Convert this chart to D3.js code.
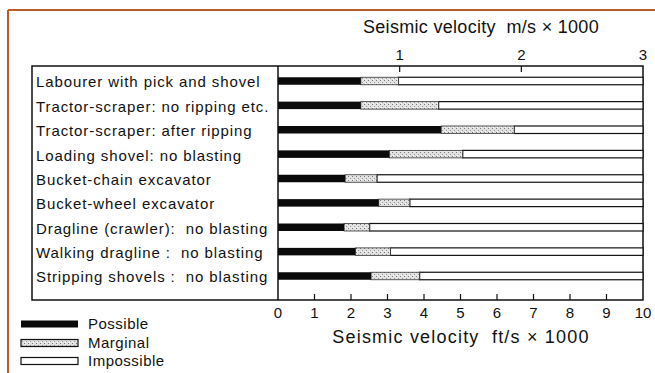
<!DOCTYPE html>
<html><head><meta charset="utf-8">
<script src="https://cdn.jsdelivr.net/npm/d3@7"></script>
<style>body{margin:0;background:#fff}svg{display:block}text{font-family:"Liberation Sans",Arial,sans-serif;fill:#111;white-space:pre}</style>
</head><body><svg id="c" width="655" height="373"></svg>
<script>
const categories = [
  "Labourer with pick and shovel",
  "Tractor-scraper: no ripping etc.",
  "Tractor-scraper: after ripping",
  "Loading shovel: no blasting",
  "Bucket-chain excavator",
  "Bucket-wheel excavator",
  "Dragline (crawler):  no blasting",
  "Walking dragline :  no blasting",
  "Stripping shovels :  no blasting"
];
// seismic velocity, ft/s x 1000 (upper limit of each class)
const possibleEnd   = [2.27, 2.27, 4.47, 3.05, 1.84, 2.76, 1.81, 2.12, 2.55];
const marginalEnd   = [3.30, 4.40, 6.47, 5.06, 2.71, 3.61, 2.51, 3.08, 3.88];
const impossibleEnd = [10, 10, 10, 10, 10, 10, 10, 10, 10];
const ftTicks = [0,1,2,3,4,5,6,7,8,9,10];
const mTicks = [1,2,3];
const legendItems = ["Possible","Marginal","Impossible"];

const svg = d3.select("#c");
const defs = svg.append("defs");
const pat = defs.append("pattern").attr("id","hatch").attr("patternUnits","userSpaceOnUse")
  .attr("width",4).attr("height",4);
pat.append("rect").attr("width",4).attr("height",4).attr("fill","#e2e2e2");
pat.append("rect").attr("x",0).attr("y",0).attr("width",1).attr("height",1).attr("fill","#7a7a7a");
pat.append("rect").attr("x",2).attr("y",2).attr("width",1).attr("height",1).attr("fill","#999");
pat.append("rect").attr("x",1).attr("y",3).attr("width",1).attr("height",1).attr("fill","#fafafa");

// orange frame
svg.append("line").attr("x1",8).attr("x2",655).attr("y1",10).attr("y2",10).attr("stroke","#bf5a2a").attr("stroke-width",2);
svg.append("line").attr("x1",8).attr("x2",8).attr("y1",10).attr("y2",373).attr("stroke","#bf5a2a").attr("stroke-width",2);

const x = d3.scaleLinear().domain([0,10]).range([278,643]);
const xm = d3.scaleLinear().domain([0,3]).range([278,643]);
const y = d3.scalePoint().domain(categories).range([81,276]);
const plotTop = 66, plotBottom = 300, plotLeft = 32;
const bh = 7.5;

// frame
svg.append("rect").attr("x",plotLeft).attr("y",plotTop).attr("width",x(10)-plotLeft).attr("height",plotBottom-plotTop)
  .attr("fill","none").attr("stroke","#111").attr("stroke-width",1.5);
svg.append("line").attr("x1",x(0)).attr("x2",x(0)).attr("y1",plotTop).attr("y2",plotBottom).attr("stroke","#111").attr("stroke-width",1.5);

// bars
const rows = svg.append("g").selectAll("g").data(categories).join("g");
rows.append("rect").attr("x",(d,i)=>x(marginalEnd[i])).attr("y",d=>y(d)-bh/2)
  .attr("width",(d,i)=>x(impossibleEnd[i])-x(marginalEnd[i])).attr("height",bh)
  .attr("fill","#fff").attr("stroke","#111").attr("stroke-width",1.2);
rows.append("rect").attr("x",(d,i)=>x(possibleEnd[i])).attr("y",d=>y(d)-bh/2)
  .attr("width",(d,i)=>x(marginalEnd[i])-x(possibleEnd[i])).attr("height",bh)
  .attr("fill","url(#hatch)").attr("stroke","#333").attr("stroke-width",0.8);
rows.append("rect").attr("x",x(0)).attr("y",d=>y(d)-bh/2)
  .attr("width",(d,i)=>x(possibleEnd[i])-x(0)).attr("height",bh).attr("fill","#0a0a0a");

// labels
svg.append("g").selectAll("text").data(categories).join("text")
  .attr("x",36).attr("y",d=>y(d)+1).attr("dy","0.36em")
  .style("font-size","15px").style("letter-spacing","0.9px").text(d=>d);

// bottom axis
svg.append("g").selectAll("line").data(ftTicks.slice(1,-1)).join("line")
  .attr("x1",d=>x(d)).attr("x2",d=>x(d)).attr("y1",plotBottom).attr("y2",plotBottom-6)
  .attr("stroke","#111").attr("stroke-width",1.2);
svg.append("g").selectAll("text").data(ftTicks).join("text")
  .attr("x",d=>x(d)).attr("y",318).attr("text-anchor","middle").style("font-size","15px").text(d=>d);
svg.append("text").attr("x",461).attr("y",343).attr("text-anchor","middle")
  .style("font-size","18px").style("letter-spacing","1.2px").text("Seismic velocity  ft/s × 1000");

// top axis
svg.append("g").selectAll("line").data(mTicks.slice(0,-1)).join("line")
  .attr("x1",d=>xm(d)).attr("x2",d=>xm(d)).attr("y1",plotTop).attr("y2",plotTop+6)
  .attr("stroke","#111").attr("stroke-width",1.2);
svg.append("g").selectAll("text").data(mTicks).join("text")
  .attr("x",d=>xm(d)).attr("y",60).attr("text-anchor","middle").style("font-size","15px").text(d=>d);
svg.append("text").attr("x",481).attr("y",33).attr("text-anchor","middle")
  .style("font-size","18px").style("letter-spacing","0.3px").text("Seismic velocity  m/s × 1000");

// legend
const lg = svg.append("g").selectAll("g").data(legendItems).join("g")
  .attr("transform",(d,i)=>`translate(0,${[324,343,361][i]})`);
lg.append("rect").attr("x",21).attr("y",-3.5).attr("width",57).attr("height",7)
  .attr("fill",(d,i)=>["#0a0a0a","url(#hatch)","#fff"][i])
  .attr("stroke",(d,i)=>i===0?"none":"#111").attr("stroke-width",1.2);
lg.append("text").attr("x",88).attr("y",0).attr("dy","0.36em").style("font-size","15px").style("letter-spacing","0.5px").text(d=>d);
</script></body></html>
